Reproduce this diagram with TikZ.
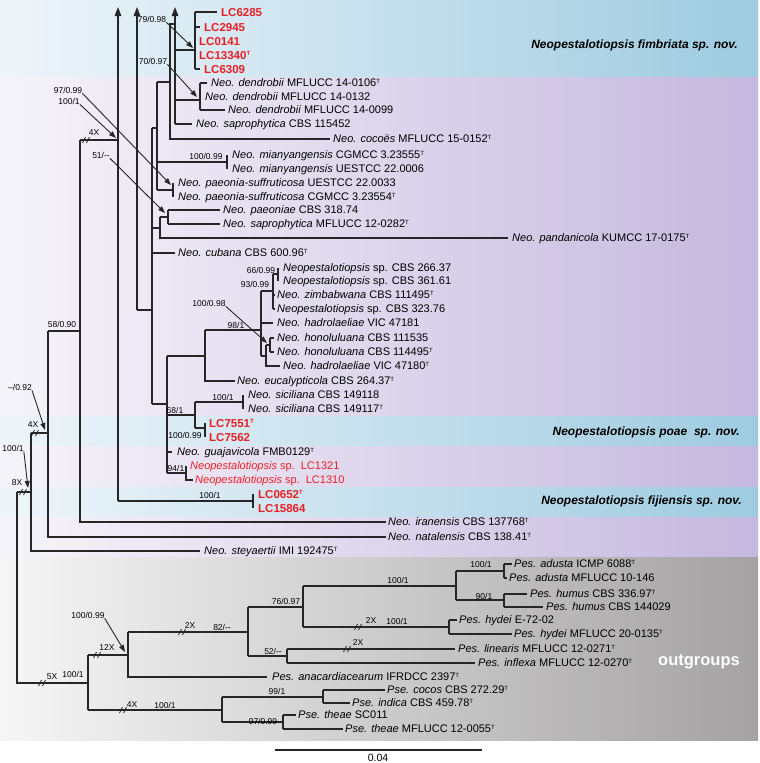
\documentclass[tikz,border=0pt]{standalone}
\usepackage{fontspec}
\setmainfont{Liberation Sans}
\usetikzlibrary{arrows.meta}
\definecolor{linec}{RGB}{38,38,38}
\definecolor{lcred}{RGB}{232,30,37}
\definecolor{blueR}{RGB}{158,203,224}
\definecolor{blueL}{RGB}{238,245,250}
\definecolor{purR}{RGB}{196,184,222}
\definecolor{purL}{RGB}{246,244,250}
\definecolor{grayR}{RGB}{164,162,162}
\definecolor{grayL}{RGB}{246,246,246}
\newcommand\typT{\raisebox{3.8pt}{\fontsize{6}{6}\selectfont T}}
\newcommand\gi[1]{\textit{#1}}
\tikzset{
  tx/.style={anchor=west, inner sep=0pt, font=\fontsize{11}{11}\selectfont, text height=7.9pt, text depth=0pt, text=black},
  lc/.style={anchor=west, inner sep=0pt, font=\fontsize{11.5}{11.5}\selectfont\bfseries, text height=8.3pt, text depth=0pt, text=lcred},
  sl/.style={inner sep=0pt, font=\fontsize{8.5}{8.5}\selectfont, text=black},
  br/.style={line width=1.3pt, draw=linec},
  uparr/.style={line width=1.3pt, draw=linec, -{Triangle[width=6.5pt,length=9pt]}},
  co/.style={line width=0.9pt, draw=linec, -{Triangle[width=5pt,length=7pt]}},
  clade/.style={anchor=east, inner sep=0pt, font=\fontsize{12}{12}\selectfont\bfseries\itshape},
  brk/.pic={\draw[line width=0.7pt, linec] (-3.5,3)--(-0.5,-3) (0.5,3)--(3.5,-3);}
}
\begin{document}
\begin{tikzpicture}[x=1pt,y=-1pt]
\useasboundingbox (0,0) rectangle (760,763);
% backgrounds
\shade[left color=blueL, right color=blueR] (0,0) rectangle (758,77);
\shade[left color=purL, right color=purR] (0,77) rectangle (758,557);
\shade[left color=blueL, right color=blueR] (0,416) rectangle (758,445);
\shade[left color=blueL, right color=blueR] (0,487) rectangle (758,516);
\shade[left color=grayL, right color=grayR] (0,557) rectangle (758,740);

% clade labels
\node[clade] (cf) at (738,45) {Neopestalotiopsis fimbriata sp. nov.};
\node[clade] (cp) at (740,432) {Neopestalotiopsis poae\ \ sp. nov.};
\node[clade] (cj) at (742,501) {Neopestalotiopsis fijiensis sp. nov.};
\node[inner sep=0pt, font=\fontsize{16.5}{16.5}\selectfont\bfseries, text=white] (og) at (699,662) {outgroups};

% tip labels
\node[lc] (t1) at (221,12) {LC6285};
\node[lc] (t2) at (204,27) {LC2945};
\node[lc] (t3) at (199,41) {LC0141};
\node[lc] (t4) at (199,55) {LC13340\typT};
\node[lc] (t5) at (204,69) {LC6309};
\node[tx] (t6) at (211,83) {\gi{Neo.} \gi{dendrobii} MFLUCC 14-0106\typT};
\node[tx] (t7) at (205,97) {\gi{Neo.} \gi{dendrobii} MFLUCC 14-0132};
\node[tx] (t8) at (228,110) {\gi{Neo.} \gi{dendrobii} MFLUCC 14-0099};
\node[tx] (t9) at (196,124) {\gi{Neo.} \gi{saprophytica} CBS 115452};
\node[tx] (t10) at (333,139) {\gi{Neo.} \gi{cocoës} MFLUCC 15-0152\typT};
\node[tx] (t11) at (232,155) {\gi{Neo.} \gi{mianyangensis} CGMCC 3.23555\typT};
\node[tx] (t12) at (232,169) {\gi{Neo.} \gi{mianyangensis} UESTCC 22.0006};
\node[tx] (t13) at (178,183) {\gi{Neo.} \gi{paeonia-suffruticosa} UESTCC 22.0033};
\node[tx] (t14) at (178,197) {\gi{Neo.} \gi{paeonia-suffruticosa} CGMCC 3.23554\typT};
\node[tx] (t15) at (223,210) {\gi{Neo.} \gi{paeoniae} CBS 318.74};
\node[tx] (t16) at (223,224) {\gi{Neo.} \gi{saprophytica} MFLUCC 12-0282\typT};
\node[tx] (t17) at (512,238) {\gi{Neo.} \gi{pandanicola} KUMCC 17-0175\typT};
\node[tx] (t18) at (178,253) {\gi{Neo.} \gi{cubana} CBS 600.96\typT};
\node[tx] (t19) at (283,268) {\gi{Neopestalotiopsis} sp. CBS 266.37};
\node[tx] (t20) at (283,281) {\gi{Neopestalotiopsis} sp. CBS 361.61};
\node[tx] (t21) at (277,295) {\gi{Neo.} \gi{zimbabwana} CBS 111495\typT};
\node[tx] (t22) at (277,309) {\gi{Neopestalotiopsis} sp. CBS 323.76};
\node[tx] (t23) at (277,323) {\gi{Neo.} \gi{hadrolaeliae} VIC 47181};
\node[tx] (t24) at (277,338) {\gi{Neo.} \gi{honoluluana} CBS 111535};
\node[tx] (t25) at (277,352) {\gi{Neo.} \gi{honoluluana} CBS 114495\typT};
\node[tx] (t26) at (283,366) {\gi{Neo.} \gi{hadrolaeliae} VIC 47180\typT};
\node[tx] (t27) at (237,381) {\gi{Neo.} \gi{eucalypticola} CBS 264.37\typT};
\node[tx] (t28) at (248,395) {\gi{Neo.} \gi{siciliana} CBS 149118};
\node[tx] (t29) at (248,409) {\gi{Neo.} \gi{siciliana} CBS 149117\typT};
\node[lc] (t30) at (209,423) {LC7551\typT};
\node[lc] (t31) at (209,437) {LC7562};
\node[tx] (t32) at (177,452) {\gi{Neo.} \gi{guajavicola} FMB0129\typT};
\node[tx,text=lcred] (t33) at (190,466) {\gi{Neopestalotiopsis} sp.\ \ LC1321};
\node[tx,text=lcred] (t34) at (195,480) {\gi{Neopestalotiopsis} sp.\ \ LC1310};
\node[lc] (t35) at (258,494) {LC0652\typT};
\node[lc] (t36) at (258,508) {LC15864};
\node[tx] (t37) at (388,522) {\gi{Neo.} \gi{iranensis} CBS 137768\typT};
\node[tx] (t38) at (388,537) {\gi{Neo.} \gi{natalensis} CBS 138.41\typT};
\node[tx] (t39) at (204,551) {\gi{Neo.} \gi{steyaertii} IMI 192475\typT};
\node[tx] (t40) at (514,564) {\gi{Pes.} \gi{adusta} ICMP 6088\typT};
\node[tx] (t41) at (509,578) {\gi{Pes.} \gi{adusta} MFLUCC 10-146};
\node[tx] (t42) at (530,594) {\gi{Pes.} \gi{humus} CBS 336.97\typT};
\node[tx] (t43) at (546,607) {\gi{Pes.} \gi{humus} CBS 144029};
\node[tx] (t44) at (459,620) {\gi{Pes.} \gi{hydei} E-72-02};
\node[tx] (t45) at (514,634) {\gi{Pes.} \gi{hydei} MFLUCC 20-0135\typT};
\node[tx] (t46) at (458,649) {\gi{Pes.} \gi{linearis} MFLUCC 12-0271\typT};
\node[tx] (t47) at (478,663) {\gi{Pes.} \gi{inflexa} MFLUCC 12-0270\typT};
\node[tx] (t48) at (272,677) {\gi{Pes.} \gi{anacardiacearum} IFRDCC 2397\typT};
\node[tx] (t49) at (387,690) {\gi{Pse.} \gi{cocos} CBS 272.29\typT};
\node[tx] (t50) at (352,703) {\gi{Pse.} \gi{indica} CBS 459.78\typT};
\node[tx] (t51) at (298,715) {\gi{Pse.} \gi{theae} SC011};
\node[tx] (t52) at (345,729) {\gi{Pse.} \gi{theae} MFLUCC 12-0055\typT};

% ---------- tree branches ----------
% long upward arrows
\draw[uparr] (175,124) -- (175,7);
\draw[uparr] (137,310) -- (137,7);
\draw[uparr] (118,501) -- (118,7);
% fimbriata clade
\draw[br] (195,12) -- (195,69);
\draw[br] (195,12) -- (217,12);
\draw[br] (195,27) -- (200,27);
\draw[br] (195,69) -- (200,69);
\draw[br] (175,50) -- (195,50);
% dendrobii
\draw[br] (200,83) -- (200,110);
\draw[br] (200,83) -- (207,83);
\draw[br] (200,110) -- (225,110);
\draw[br] (175,100) -- (200,100);
\draw[br] (175,124) -- (192,124);
\draw[br] (175,24) -- (170,24) -- (170,139) -- (330,139);
\draw[br] (157,82) -- (170,82);
% mianyangensis / paeonia-suffruticosa
\draw[br] (157,162) -- (227,162);
\draw[br] (227,155) -- (227,169);
\draw[br] (157,190) -- (173,190);
\draw[br] (173,183) -- (173,197);
\draw[br] (157,82) -- (157,190);
\draw[br] (152,128) -- (157,128);
% paeoniae
\draw[br] (168,210) -- (168,224);
\draw[br] (168,210) -- (220,210);
\draw[br] (168,224) -- (220,224);
\draw[br] (160,217) -- (168,217);
\draw[br] (160,217) -- (160,238) -- (508,238);
\draw[br] (152,228) -- (160,228);
\draw[br] (152,253) -- (175,253);
\draw[br] (152,128) -- (152,404);
\draw[br] (137,310) -- (152,310);
% zimbabwana group
\draw[br] (273,274) -- (273,309);
\draw[br] (273,274) -- (278,274);
\draw[br] (278,268) -- (278,281);
\draw[br] (273,295) -- (275,295);
\draw[br] (273,309) -- (275,309);
\draw[br] (261,291) -- (273,291);
\draw[br] (261,323) -- (273,323);
\draw[br] (270,338) -- (270,352);
\draw[br] (270,338) -- (274,338);
\draw[br] (270,352) -- (274,352);
\draw[br] (266,345) -- (270,345);
\draw[br] (266,345) -- (266,366) -- (280,366);
\draw[br] (261,356) -- (266,356);
\draw[br] (261,291) -- (261,356);
\draw[br] (205,330) -- (261,330);
\draw[br] (205,330) -- (205,381) -- (235,381);
\draw[br] (167,356) -- (205,356);
% siciliana / poae
\draw[br] (243,395) -- (243,409);
\draw[br] (195,402) -- (243,402);
\draw[br] (205,423) -- (205,437);
\draw[br] (195,428) -- (205,428);
\draw[br] (195,402) -- (195,428);
\draw[br] (167,415) -- (195,415);
\draw[br] (167,452) -- (172,452);
\draw[br] (167,473) -- (186,473);
\draw[br] (186,466) -- (186,480) -- (193,480);
\draw[br] (167,356) -- (167,473);
\draw[br] (152,404) -- (167,404);
% fijiensis
\draw[br] (253,494) -- (253,508);
\draw[br] (118,501) -- (253,501);
% backbone
\draw[br] (80,140) -- (118,140);
\draw[br] (80,140) -- (80,522) -- (386,522);
\draw[br] (48,331) -- (80,331);
\draw[br] (48,331) -- (48,537) -- (386,537);
\draw[br] (31,433) -- (48,433);
\draw[br] (31,433) -- (31,551) -- (200,551);
\draw[br] (17,492) -- (31,492);
\draw[br] (17,492) -- (17,683) -- (88,683);
% outgroups
\draw[br] (88,655) -- (88,710);
\draw[br] (88,655) -- (128,655);
\draw[br] (128,632) -- (128,677) -- (267,677);
\draw[br] (128,632) -- (248,632);
\draw[br] (248,607) -- (248,656);
\draw[br] (248,607) -- (303,607);
\draw[br] (303,586) -- (303,627);
\draw[br] (303,586) -- (456,586);
\draw[br] (456,571) -- (456,600);
\draw[br] (456,571) -- (504,571);
\draw[br] (504,564) -- (504,578);
\draw[br] (504,564) -- (512,564);
\draw[br] (504,578) -- (507,578);
\draw[br] (456,600) -- (504,600);
\draw[br] (504,594) -- (504,607);
\draw[br] (504,594) -- (527,594);
\draw[br] (504,607) -- (543,607);
\draw[br] (303,627) -- (449,627);
\draw[br] (449,620) -- (449,634);
\draw[br] (449,620) -- (457,620);
\draw[br] (449,634) -- (512,634);
\draw[br] (248,656) -- (287,656);
\draw[br] (287,649) -- (287,663);
\draw[br] (287,649) -- (455,649);
\draw[br] (287,663) -- (475,663);
\draw[br] (88,710) -- (222,710);
\draw[br] (222,697) -- (222,722);
\draw[br] (222,697) -- (323,697);
\draw[br] (323,690) -- (323,703);
\draw[br] (323,690) -- (385,690);
\draw[br] (323,703) -- (350,703);
\draw[br] (222,722) -- (283,722);
\draw[br] (283,715) -- (283,729);
\draw[br] (283,715) -- (296,715);
\draw[br] (283,729) -- (343,729);

% branch breaks
\pic at (86,140) {brk};
\pic at (35,433) {brk};
\pic at (23,492) {brk};
\pic at (42,683) {brk};
\pic at (97,655) {brk};
\pic at (182,632) {brk};
\pic at (123,710) {brk};
\pic at (358,627) {brk};
\pic at (347,649) {brk};

% support values
\node[sl] (s1) at (152,19) {79/0.98};
\node[sl] (s2) at (153,61) {70/0.97};
\node[sl] (s3) at (68,90) {97/0.99};
\node[sl] (s4) at (69,101) {100/1};
\node[sl] (s5) at (101,155) {51/-{}-};
\node[sl] (s6) at (94,133) {4X};
\node[sl] (s7) at (206,156) {100/0.99};
\node[sl] (s8) at (261,270) {66/0.99};
\node[sl] (s9) at (255,284) {93/0.99};
\node[sl] (s10) at (209,303) {100/0.98};
\node[sl] (s11) at (236,325) {98/1};
\node[sl] (s12) at (223,397) {100/1};
\node[sl] (s13) at (175,410) {68/1};
\node[sl] (s14) at (185,435) {100/0.99};
\node[sl] (s15) at (176,468) {94/1};
\node[sl] (s16) at (210,495) {100/1};
\node[sl] (s17) at (62,324) {58/0.90};
\node[sl] (s18) at (20,387) {--/0.92};
\node[sl] (s19) at (33,425) {4X};
\node[sl] (s20) at (13,448) {100/1};
\node[sl] (s21) at (17,483) {8X};
\node[sl] (s22) at (88,615) {100/0.99};
\node[sl] (s23) at (107,648) {12X};
\node[sl] (s24) at (52,677) {5X};
\node[sl] (s25) at (73,674) {100/1};
\node[sl] (s26) at (190,626) {2X};
\node[sl] (s27) at (222,627) {82/-{}-};
\node[sl] (s28) at (286,601) {76/0.97};
\node[sl] (s29) at (398,580) {100/1};
\node[sl] (s30) at (481,564) {100/1};
\node[sl] (s31) at (484,596) {90/1};
\node[sl] (s32) at (371,621) {2X};
\node[sl] (s33) at (397,621) {100/1};
\node[sl] (s34) at (273,651) {52/-{}-};
\node[sl] (s35) at (358,643) {2X};
\node[sl] (s36) at (277,691) {99/1};
\node[sl] (s37) at (132,705) {4X};
\node[sl] (s38) at (165,705) {100/1};
\node[sl] (s39) at (263,721) {97/0.99};

% callout arrows
\coordinate (a1) at (193,48);
\coordinate (a2) at (197,97);
\coordinate (a3) at (171,185);
\coordinate (a4) at (116,138);
\coordinate (a5) at (165,213);
\coordinate (a6) at (267,343);
\coordinate (a7) at (45,430);
\coordinate (a8) at (28,488);
\coordinate (a9) at (125,652);
\draw[co] (s1.south east) -- (a1);
\draw[co] (s2.south east) -- (a2);
\draw[co] (s3.south east) -- (a3);
\draw[co] (s4.south east) -- (a4);
\draw[co] (s5.south east) -- (a5);
\draw[co] (s10.south east) -- (a6);
\draw[co] (s18.south east) -- (a7);
\draw[co] (s20.south east) -- (a8);
\draw[co] (s22.south east) -- (a9);

% scale bar
\coordinate (sb1) at (275,750);
\coordinate (sb2) at (482,750);
\draw[line width=1.3pt, linec] (sb1) -- (sb2);
\node[inner sep=0pt, font=\fontsize{10.5}{10.5}\selectfont] (sbl) at (378,758) {0.04};
\end{tikzpicture}
\end{document}
